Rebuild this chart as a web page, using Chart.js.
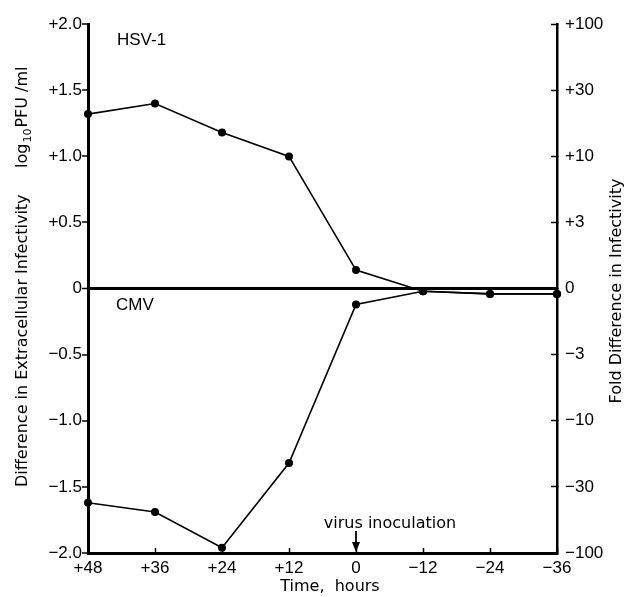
<!DOCTYPE html>
<html>
<head>
<meta charset="utf-8">
<script src="https://cdn.jsdelivr.net/npm/chart.js@4.4.1/dist/chart.umd.min.js"></script>
<style>
html,body{margin:0;padding:0;background:#fff;}
#wrap{width:635px;height:597px;position:relative;}
</style>
</head>
<body>
<div id="wrap"><canvas id="c" width="635" height="597"></canvas></div>
<script>
// ---- data ----
const timeLabels = ["+48", "+36", "+24", "+12", "0", "\u221212", "\u221224", "\u221236"];
const hsv1Values = [1.32, 1.40, 1.18, 1.00, 0.14, -0.02, -0.04, -0.04];
const cmvValues  = [-1.62, -1.69, -1.96, -1.32, -0.12, -0.02, -0.04, -0.04];
const leftTickValues = [2.0, 1.5, 1.0, 0.5, 0, -0.5, -1.0, -1.5, -2.0];
const leftTickLabels = ["+2.0", "+1.5", "+1.0", "+0.5", "0", "\u22120.5", "\u22121.0", "\u22121.5", "\u22122.0"];
const rightTickLabels = ["+100", "+30", "+10", "+3", "0", "\u22123", "\u221210", "\u221230", "\u2212100"];
const seriesNames = ["HSV-1", "CMV"];

const FONT = "'Liberation Sans', Arial, sans-serif";
const TFONT = "'DejaVu Sans', sans-serif";

function labelFor(list, v) {
  const i = leftTickValues.findIndex(t => Math.abs(t - v) < 1e-6);
  return i >= 0 ? list[i] : "";
}

const annotPlugin = {
  id: 'annot',
  afterDraw(chart) {
    const ctx = chart.ctx;
    const xs = chart.scales.x, ys = chart.scales.y, ca = chart.chartArea;
    ctx.save();
    ctx.fillStyle = '#000';
    ctx.strokeStyle = '#000';
    // series labels
    ctx.font = "17px " + FONT;
    ctx.textBaseline = 'middle';
    ctx.textAlign = 'left';
    ctx.fillText(seriesNames[0], ca.left + 29, ys.getPixelForValue(1.88));
    ctx.fillText(seriesNames[1], ca.left + 28, ys.getPixelForValue(-0.13));
    // virus inoculation
    const x0 = xs.getPixelForValue(4);
    ctx.font = "16px " + TFONT;
    ctx.textAlign = 'center';
    ctx.fillText("virus inoculation", x0 + 34, ca.bottom - 29);
    ctx.lineWidth = 1.8;
    ctx.beginPath();
    ctx.moveTo(x0, ca.bottom - 22);
    ctx.lineTo(x0, ca.bottom - 6);
    ctx.stroke();
    ctx.beginPath();
    ctx.moveTo(x0 - 4, ca.bottom - 11);
    ctx.lineTo(x0 + 4, ca.bottom - 11);
    ctx.lineTo(x0, ca.bottom - 1);
    ctx.closePath();
    ctx.fill();
    // x title
    ctx.font = "16px " + TFONT;
    ctx.textAlign = 'center';
    ctx.fillText("Time,  hours", 330, 587);
    // left title (rotated)
    ctx.save();
    ctx.translate(23, 487);
    ctx.rotate(-Math.PI / 2);
    ctx.textAlign = 'left';
    ctx.textBaseline = 'middle';
    ctx.font = "16px " + TFONT;
    ctx.fillText("Difference in Extracellular Infectivity", 0, 0);
    let px = 319;
    ctx.fillText("log", px, 0);
    px += ctx.measureText("log").width + 1;
    ctx.font = "11px " + TFONT;
    ctx.fillText("10", px, 5);
    px += ctx.measureText("10").width + 1;
    ctx.font = "16px " + TFONT;
    ctx.fillText("PFU /ml", px, 0);
    ctx.restore();
    // right title (rotated, reading upward)
    ctx.save();
    ctx.translate(617, 291);
    ctx.rotate(-Math.PI / 2);
    ctx.textAlign = 'center';
    ctx.textBaseline = 'middle';
    ctx.font = "16px " + TFONT;
    ctx.fillText("Fold Difference in Infectivity", 0, 0);
    ctx.restore();
    ctx.restore();
  }
};

const lineStyle = {
  borderColor: '#000',
  backgroundColor: '#000',
  borderWidth: 1.6,
  pointRadius: 4,
  pointHoverRadius: 4,
  pointBackgroundColor: '#000',
  pointBorderColor: '#000',
  pointBorderWidth: 0,
  tension: 0,
  fill: false,
  clip: false
};

new Chart(document.getElementById('c'), {
  type: 'line',
  data: {
    labels: timeLabels,
    datasets: [
      Object.assign({ label: seriesNames[0], data: hsv1Values, yAxisID: 'y' }, lineStyle),
      Object.assign({ label: seriesNames[1], data: cmvValues, yAxisID: 'y' }, lineStyle)
    ]
  },
  options: {
    responsive: false,
    animation: false,
    devicePixelRatio: 1,
    layout: { padding: { top: 20, left: 0, right: 0, bottom: 0 } },
    plugins: { legend: { display: false }, tooltip: { enabled: false } },
    scales: {
      x: {
        type: 'category',
        offset: false,
        position: 'bottom',
        border: { display: true, color: '#000', width: 3 },
        grid: { drawOnChartArea: false, drawTicks: true, tickLength: -5, tickColor: '#000', tickWidth: 1.5 },
        ticks: { color: '#000', font: { family: FONT, size: 17 }, padding: 10, maxRotation: 0, autoSkip: false },
        afterFit(s) { s.height = 44; }
      },
      y: {
        position: 'left',
        min: -2, max: 2,
        border: { display: true, color: '#000', width: 3 },
        grid: {
          drawOnChartArea: true,
          drawTicks: true,
          tickLength: 6,
          tickColor: '#000',
          tickWidth: 1.5,
          color: c => (c.tick && c.tick.value === 0 ? '#000' : 'rgba(0,0,0,0)'),
          lineWidth: c => (c.tick && c.tick.value === 0 ? 3 : 0)
        },
        ticks: {
          stepSize: 0.5,
          color: '#000',
          font: { family: FONT, size: 17 },
          padding: 0,
          callback: v => labelFor(leftTickLabels, v)
        },
        afterFit(s) { s.width = 88; }
      },
      y2: {
        position: 'right',
        min: -2, max: 2,
        border: { display: true, color: '#000', width: 2.5 },
        grid: { drawOnChartArea: false, drawTicks: true, tickLength: -6, tickColor: '#000', tickWidth: 1.5 },
        ticks: {
          stepSize: 0.5,
          color: '#000',
          font: { family: FONT, size: 17 },
          padding: 14,
          callback: v => labelFor(rightTickLabels, v)
        },
        afterFit(s) { s.width = 78; }
      }
    }
  },
  plugins: [annotPlugin]
});
</script>
</body>
</html>
